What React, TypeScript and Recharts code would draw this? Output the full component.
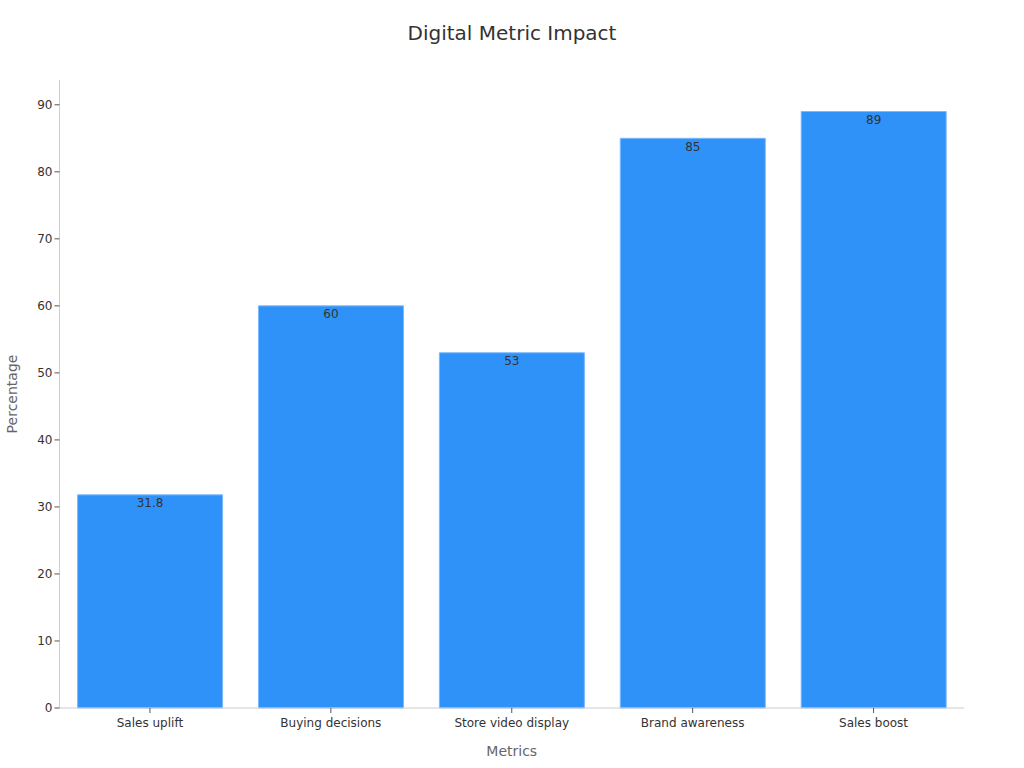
import React from "react";
import { BarChart, Bar, XAxis, YAxis, LabelList, Label } from "recharts";

const categories = ["Sales uplift", "Buying decisions", "Store video display", "Brand awareness", "Sales boost"];
const values = [31.8, 60, 53, 85, 89];
const yTicks = [0, 10, 20, 30, 40, 50, 60, 70, 80, 90];

const data = categories.map((name, i) => ({ name, value: values[i] }));

const FONT = "DejaVu Sans, sans-serif";

export default function App() {
  return (
    <div style={{ position: "absolute", left: 0, top: 0, width: 1024, height: 768, background: "#fff", fontFamily: FONT }}>
      <div style={{ position: "absolute", top: 21, left: 0, width: 1024, textAlign: "center", fontSize: 20, color: "#333", fontFamily: FONT }}>
        Digital Metric Impact
      </div>
      <BarChart
        width={1024}
        height={768}
        data={data}
        margin={{ top: 80, right: 60, bottom: 30, left: 0 }}
        barCategoryGap="10%"
      >
        <XAxis
          dataKey="name"
          stroke="#ccc"
          tick={{ fill: "#333", fontSize: 12, fontFamily: FONT, dy: 3 }}
          tickLine={{ stroke: "#555" }}
          tickSize={5}
        >
          <Label value="Metrics" position="insideBottom" offset={-18} fill="#666" fontSize={14} fontFamily={FONT} />
        </XAxis>
        <YAxis
          width={59.5}
          domain={[0, 93.7]}
          ticks={yTicks}
          stroke="#ccc"
          tick={{ fill: "#333", fontSize: 12, fontFamily: FONT }}
          tickLine={{ stroke: "#555" }}
          tickSize={5}
        >
          <Label value="Percentage" angle={-90} position="center" dx={-18} fill="#666" fontSize={14} fontFamily={FONT} />
        </YAxis>
        <Bar dataKey="value" fill="#2f92f8" stroke="#7ab8ff" strokeWidth={1} isAnimationActive={false}>
          <LabelList dataKey="value" position="insideTop" offset={4} fill="#333" fontSize={12} fontFamily={FONT} />
        </Bar>
      </BarChart>
    </div>
  );
}
